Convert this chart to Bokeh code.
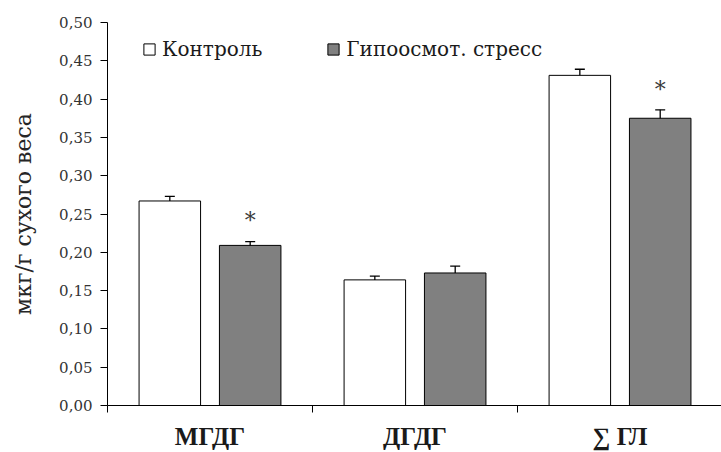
from bokeh.plotting import figure
from bokeh.models import (ColumnDataSource, Range1d, FixedTicker, CustomJSTickFormatter,
                          Whisker, TeeHead, Legend, LegendItem)
from bokeh.core.properties import value
from bokeh.embed import file_html
from bokeh.resources import INLINE

# ---- data ----
categories = ["МГДГ", "ДГДГ", "∑ ГЛ"]
series_names = ["Контроль", "Гипоосмот. стресс"]
control = [0.267, 0.164, 0.431]
control_err = [0.006, 0.005, 0.008]
stress = [0.209, 0.173, 0.375]
stress_err = [0.005, 0.009, 0.011]
significant = [True, False, True]
y_ticks = [0.0, 0.05, 0.10, 0.15, 0.20, 0.25, 0.30, 0.35, 0.40, 0.45, 0.50]

FONT = "DejaVu Serif"
BOLD_FONT = "Liberation Serif"
OFFSET = 0.196
BAR_W = 0.30

idx = list(range(len(categories)))
ctrl_src = ColumnDataSource(dict(
    x=[i + 0.5 - OFFSET for i in idx], top=control,
    upper=[v + e for v, e in zip(control, control_err)],
    lower=[v - e for v, e in zip(control, control_err)]))
str_src = ColumnDataSource(dict(
    x=[i + 0.5 + OFFSET for i in idx], top=stress,
    upper=[v + e for v, e in zip(stress, stress_err)],
    lower=[v - e for v, e in zip(stress, stress_err)]))
star_src = ColumnDataSource(dict(
    x=[i + 0.5 + OFFSET for i in idx if significant[i]],
    y=[stress[i] + stress_err[i] + 0.027 for i in idx if significant[i]],
    t=["*" for i in idx if significant[i]]))

p = figure(width=721, height=452, x_range=Range1d(0, 2.995), y_range=Range1d(0, 0.5),
           output_backend="svg", toolbar_location=None,
           min_border_left=107, min_border_right=0, min_border_top=22, min_border_bottom=47)
p.outline_line_color = None
p.xgrid.grid_line_color = None
p.ygrid.grid_line_color = None
p.background_fill_color = "white"

r1 = p.vbar(x="x", top="top", width=BAR_W, source=ctrl_src,
            fill_color="white", line_color="black", line_width=1)
r2 = p.vbar(x="x", top="top", width=BAR_W, source=str_src,
            fill_color="#808080", line_color="black", line_width=1)

for src in (ctrl_src, str_src):
    w = Whisker(source=src, base="x", upper="upper", lower="lower",
                line_color="black", line_width=1.3,
                upper_head=TeeHead(size=10, line_color="black", line_width=1.3),
                lower_head=TeeHead(size=10, line_color="black", line_width=1.3))
    p.add_layout(w)

p.text(x="x", y="y", text="t", source=star_src, text_font=value(FONT),
       text_font_size="22px", text_align="center", text_baseline="middle",
       text_color="#3a3a3a")

# y axis
ya = p.yaxis[0]
ya.ticker = FixedTicker(ticks=y_ticks, minor_ticks=[])
ya.formatter = CustomJSTickFormatter(code="return tick.toFixed(2).replace('.', ',');")
ya.major_label_text_font = FONT
ya.major_label_text_font_size = "15px"
ya.major_label_text_color = "#333333"
ya.major_tick_out = 7
ya.major_tick_in = 0
ya.major_label_standoff = 8
ya.axis_line_color = "black"
ya.major_tick_line_color = "black"
ya.axis_label = "мкг/г сухого веса"
ya.axis_label_text_font = FONT
ya.axis_label_text_font_size = "22px"
ya.axis_label_text_font_style = "normal"
ya.axis_label_text_color = "#262626"
ya.axis_label_standoff = 20

# x axis
xa = p.xaxis[0]
xa.ticker = FixedTicker(ticks=[i + 0.5 for i in idx], minor_ticks=list(range(len(categories) + 1)))
xa.formatter = CustomJSTickFormatter(args=dict(cats=categories),
                                     code="return cats[Math.round(tick - 0.5)];")
xa.major_tick_out = 0
xa.major_tick_in = 0
xa.minor_tick_out = 7
xa.minor_tick_in = 0
xa.minor_tick_line_color = "black"
xa.axis_line_color = "black"
xa.major_label_text_font = BOLD_FONT
xa.major_label_text_font_size = "25px"
xa.major_label_text_font_style = "bold"
xa.major_label_text_color = "#1a1a1a"
xa.major_label_standoff = 10

legend = Legend(items=[LegendItem(label=series_names[0], renderers=[r1]),
                       LegendItem(label=series_names[1], renderers=[r2])],
                orientation="horizontal", location=(35, 344),
                glyph_width=14, glyph_height=14, label_standoff=6, spacing=64,
                padding=0, margin=0, border_line_color=None, background_fill_alpha=0,
                label_text_font=FONT, label_text_font_size="20px",
                label_text_color="#1a1a1a")
p.add_layout(legend)

open("out.html", "w").write(file_html(p, INLINE))
